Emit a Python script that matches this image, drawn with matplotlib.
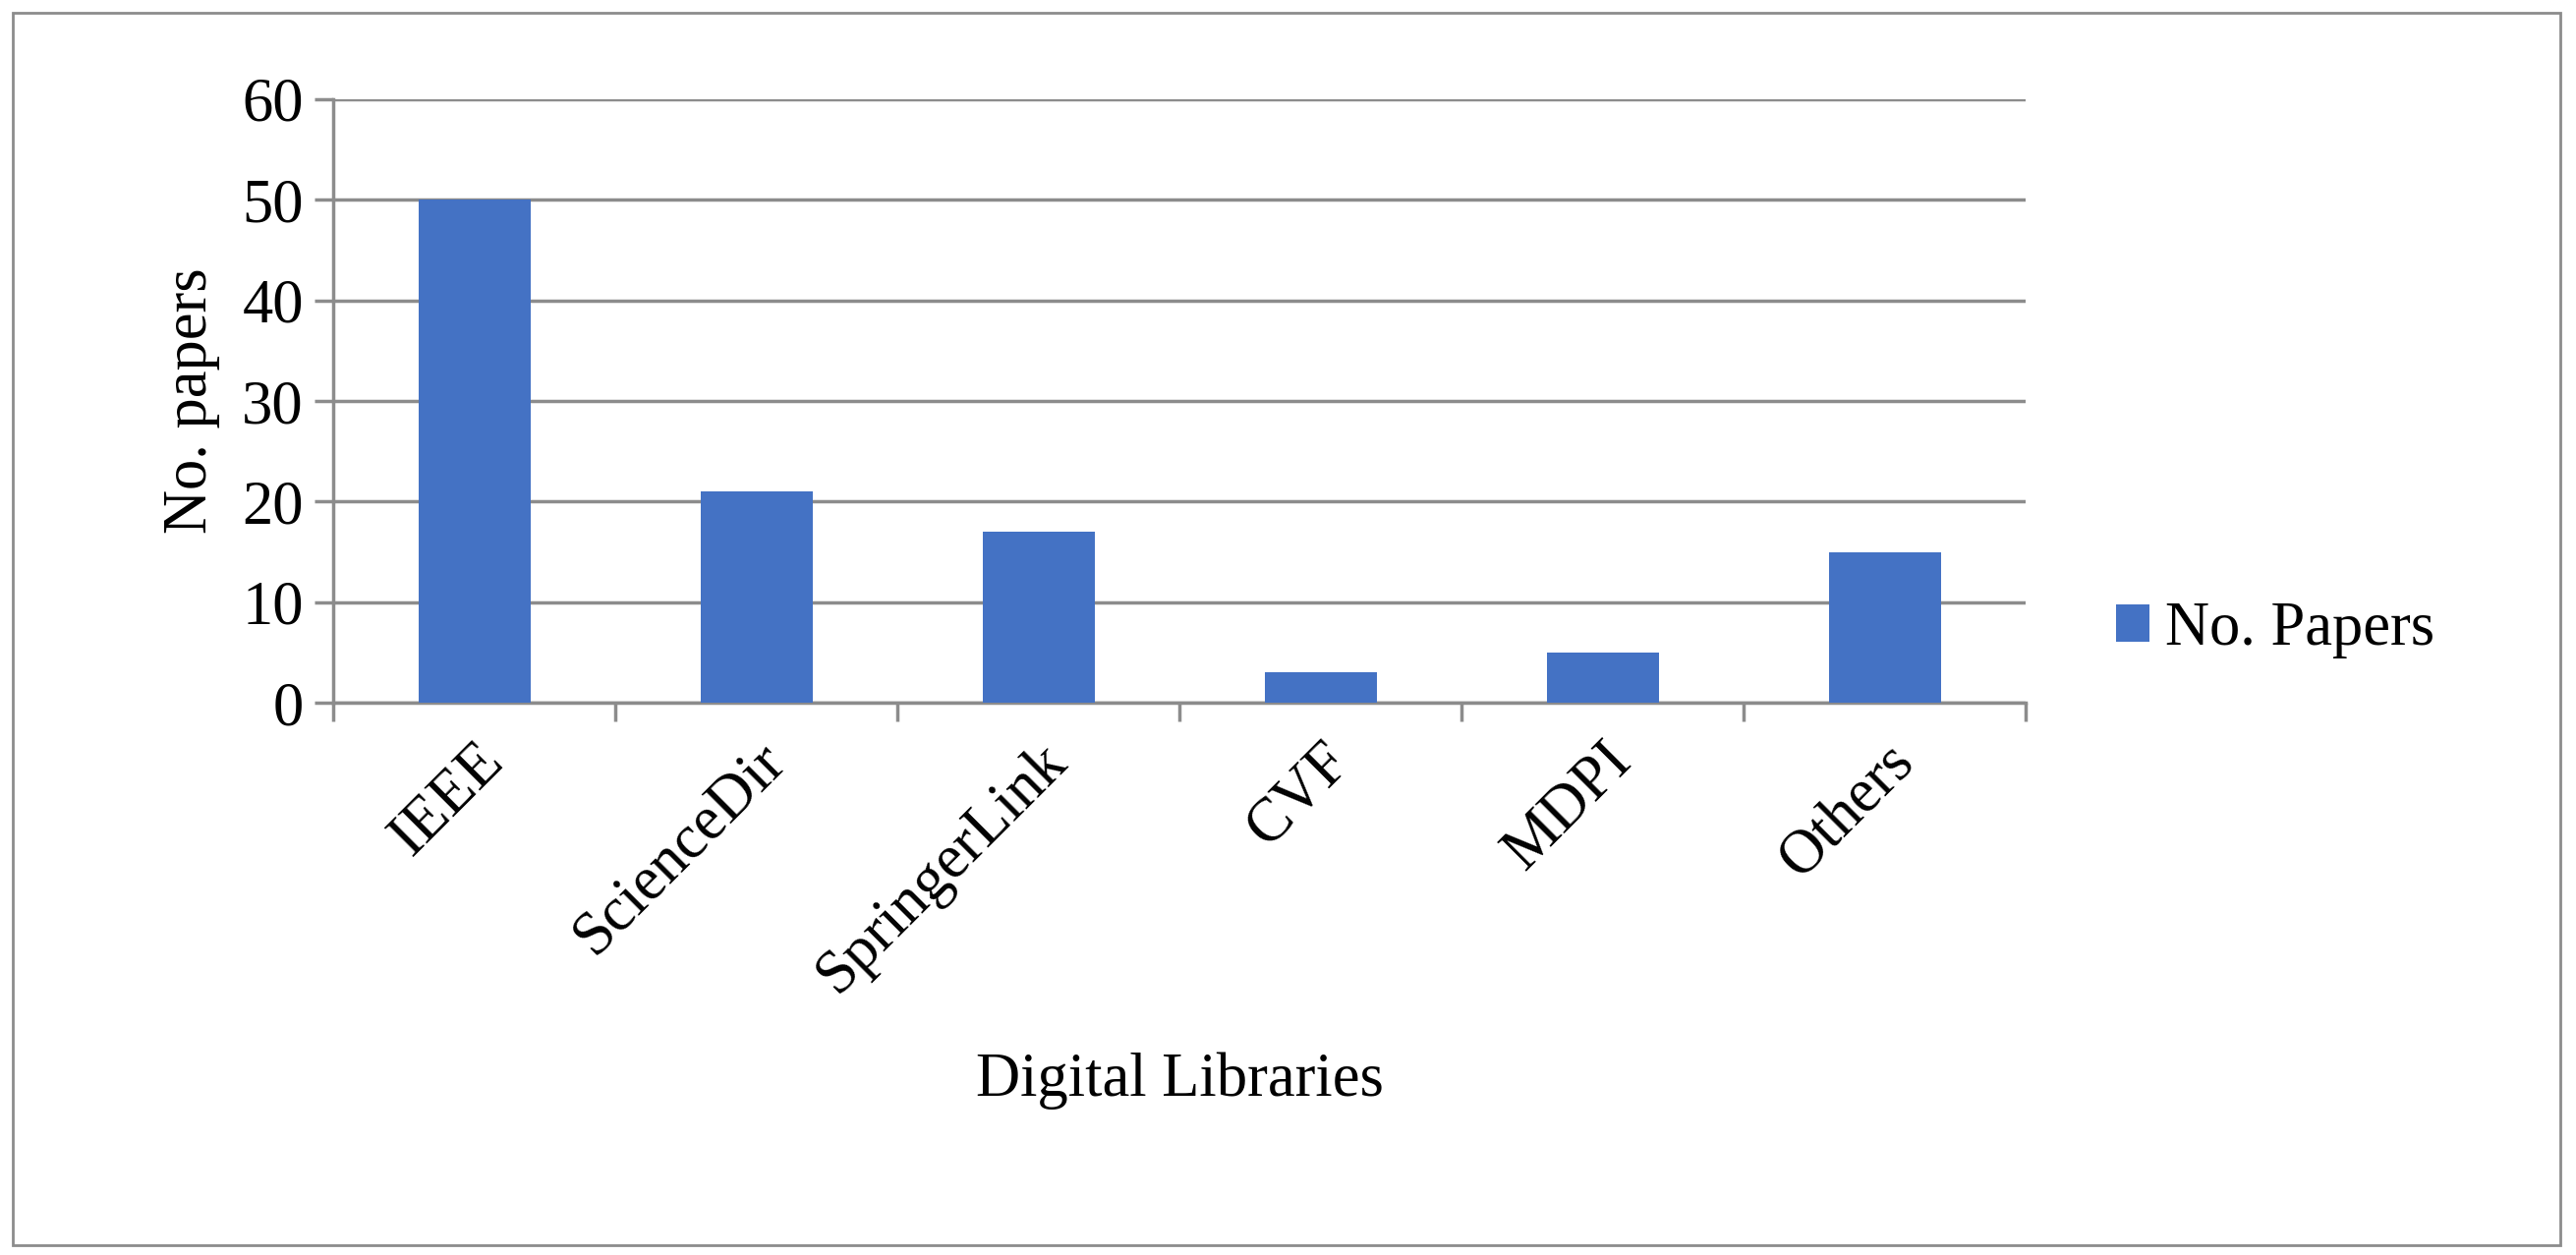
import matplotlib
matplotlib.use("Agg")
import matplotlib.pyplot as plt
from matplotlib.patches import Rectangle

categories = ["IEEE", "ScienceDir", "SpringerLink", "CVF", "MDPI", "Others"]
values = [50, 21, 17, 3, 5, 15]
yticks = [0, 10, 20, 30, 40, 50, 60]

plt.rcParams['font.family'] = ['Liberation Serif', 'DejaVu Serif']
fig = plt.figure(figsize=(26.21, 12.77), dpi=100)
fig.patches.append(Rectangle((0.005, 0.008), 0.989, 0.982, transform=fig.transFigure,
                             fill=False, edgecolor='#8c8c8c', linewidth=2))
ax = fig.add_axes([0.1295, 0.44, 0.657, 0.481])
x = list(range(len(categories)))
ax.bar(x, values, width=0.4, color='#4472C4', label='No. Papers', zorder=3)
ax.set_xlim(-0.5, len(categories) - 0.5)
ax.set_ylim(0, 60)
ax.set_yticks(yticks)
ax.grid(axis='y', color='#8c8c8c', linewidth=2.5, zorder=0)
for s in ['top', 'right']:
    ax.spines[s].set_visible(False)
ax.spines['left'].set_color('#8c8c8c'); ax.spines['left'].set_linewidth(2.5)
ax.spines['bottom'].set_color('#8c8c8c'); ax.spines['bottom'].set_linewidth(2.5)
ax.set_xticks(x)
ax.set_xticklabels(categories, rotation=45, ha='right', rotation_mode='anchor', fontsize=45)
ax.tick_params(axis='x', length=0, pad=22)
ax.set_xticks([i - 0.5 for i in range(len(categories) + 1)], minor=True)
ax.tick_params(axis='x', which='minor', length=14, width=2.5, color='#8c8c8c', direction='out')
ax.tick_params(axis='y', labelsize=45, length=14, width=2.5, color='#8c8c8c', direction='out', pad=8)
ax.set_ylabel('No. papers', fontsize=45, labelpad=16)
ax.set_xlabel('Digital Libraries', fontsize=45, labelpad=35)
ax.legend(loc='center left', bbox_to_anchor=(1.035, 0.12), frameon=False, fontsize=45,
          handlelength=0.55, handleheight=0.55, handletextpad=0.25, borderpad=0)
fig.savefig('out.png', dpi=100)
